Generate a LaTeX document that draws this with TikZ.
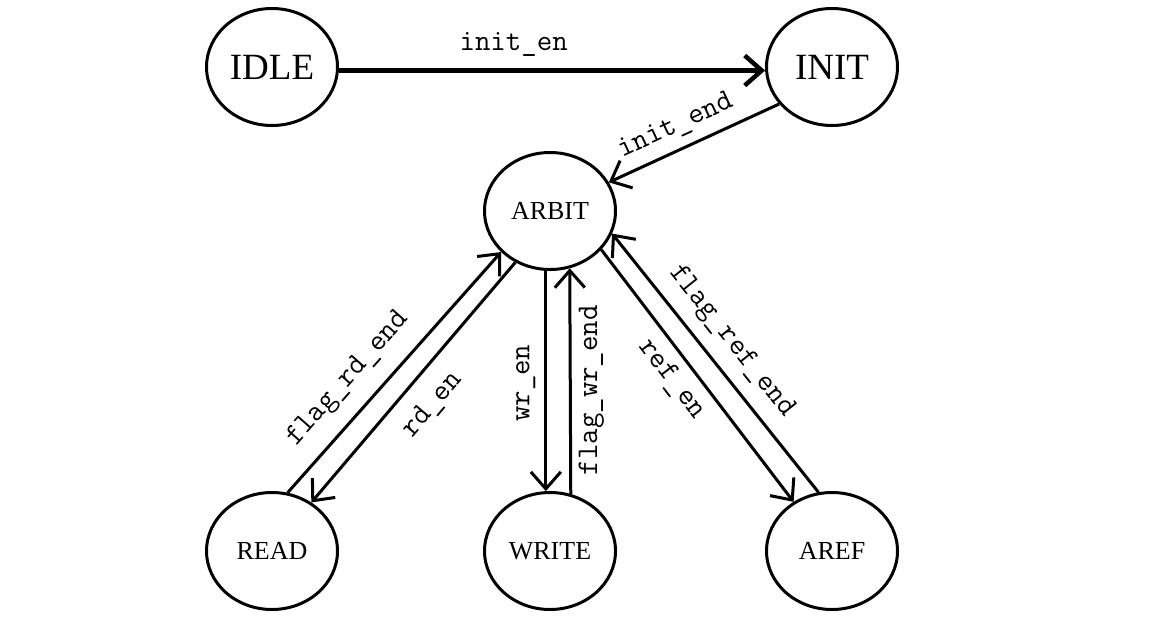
\documentclass[tikz,border=0pt]{standalone}
\usepackage{fontspec}
\newfontfamily\statefont{Liberation Serif}
\usetikzlibrary{shapes.geometric,arrows.meta}
\begin{document}
\begin{tikzpicture}[x=1pt,y=-1pt,
  state/.style={draw, ellipse, line width=3pt, minimum width=131pt, minimum height=117pt, inner sep=0pt},
  bigstate/.style={state, font=\fontsize{37}{40}\selectfont\statefont},
  smallstate/.style={state, font=\fontsize{26}{30}\selectfont\statefont},
  trans/.style={line width=3pt, -{Straight Barb[length=17pt,width=30pt]}},
  lab/.style={font=\fontsize{30}{33}\selectfont\ttfamily, inner sep=0pt},
]
\useasboundingbox (0,0) rectangle (1169,622);
\node[bigstate] (IDLE) at (272,67) {IDLE};
\node[bigstate] (INIT) at (832,67) {INIT};
\node[smallstate] (ARBIT) at (550,211) {ARBIT};
\node[smallstate] (READ) at (272,551) {READ};
\node[smallstate] (WRITE) at (550,551) {WRITE};
\node[smallstate] (AREF) at (832,551) {AREF};

\draw[trans, line width=4.5pt] (IDLE.-3) -- node[lab, pos=0.41, above=12pt] {init\_en} (INIT.183);
\draw[trans] (INIT.215) -- node[lab, sloped, pos=0.55, above=9pt] {init\_end} (ARBIT.26);
\draw[trans] (READ.75) -- node[lab, sloped, pos=0.39, above=16pt] {flag\_rd\_end} (ARBIT.220);
\draw[trans] (ARBIT.236) -- node[lab, sloped, pos=0.514, below=16pt] {rd\_en} (READ.51);
\draw[trans] (ARBIT.266) -- node[lab, pos=0.51, xshift=-20pt, rotate=90] {wr\_en} (WRITE.94);
\draw[trans] (WRITE.70) -- node[lab, pos=0.46, xshift=21pt, rotate=90] {flag\_wr\_end} (ARBIT.289);
\draw[trans] (ARBIT.323) -- node[lab, sloped, pos=0.46, below=9pt] {ref\_en} (AREF.128);
\draw[trans] (AREF.103) -- node[lab, sloped, pos=0.52, above=12pt] {flag\_ref\_end} (ARBIT.340);
\end{tikzpicture}
\end{document}
